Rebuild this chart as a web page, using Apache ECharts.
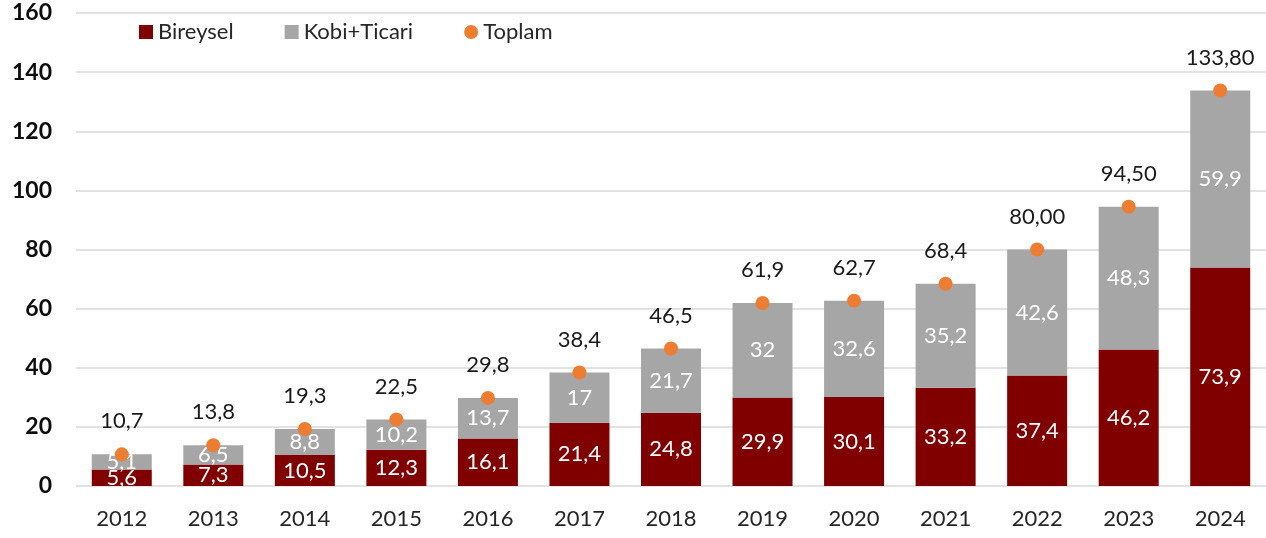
<!DOCTYPE html>
<html>
<head>
<meta charset="utf-8">
<script src="https://cdn.jsdelivr.net/npm/echarts@6/dist/echarts.min.js"></script>
<style>
  html, body { margin: 0; padding: 0; background: #fff; }
  #chart { width: 1266px; height: 538px; }
</style>
</head>
<body>
<div id="chart"></div>
<script>
// data
var years = ['2012','2013','2014','2015','2016','2017','2018','2019','2020','2021','2022','2023','2024']
var bireysel = [5.6, 7.3, 10.5, 12.3, 16.1, 21.4, 24.8, 29.9, 30.1, 33.2, 37.4, 46.2, 73.9]
var kobiTicari = [5.1, 6.5, 8.8, 10.2, 13.7, 17, 21.7, 32, 32.6, 35.2, 42.6, 48.3, 59.9]
var toplam = [10.7, 13.8, 19.3, 22.5, 29.8, 38.4, 46.5, 61.9, 62.7, 68.4, 80.0, 94.5, 133.8]
var toplamText = ['10,7','13,8','19,3','22,5','29,8','38,4','46,5','61,9','62,7','68,4','80,00','94,50','133,80']

var font = 'Lato, "Open Sans", sans-serif'
var fs = 22

function comma(p){
  return String(p.value).replace('.', ',')
}

var chart = echarts.init(document.getElementById('chart'))
chart.setOption({
  animation: false,
  textStyle: { fontFamily: font },
  grid: { left: 76, right: 0, top: 13, bottom: 52 },
  legend: {
    left: 134,
    top: 16,
    itemWidth: 14,
    itemHeight: 14,
    itemGap: 51,
    textStyle: { fontSize: fs, color: '#262626', fontFamily: font },
    data: [
      { name: 'Bireysel', icon: 'rect' },
      { name: 'Kobi+Ticari', icon: 'rect' },
      { name: 'Toplam', icon: 'circle' }
    ]
  },
  xAxis: {
    type: 'category',
    data: years,
    axisLine: { show: false },
    axisTick: { show: false },
    axisLabel: { fontSize: fs, color: '#262626', margin: 22, fontFamily: font }
  },
  yAxis: {
    type: 'value',
    min: 0,
    max: 160,
    interval: 20,
    axisLine: { show: false },
    axisTick: { show: false },
    splitLine: { lineStyle: { color: '#d9d9d9', width: 1.5 } },
    axisLabel: { fontSize: 23, fontWeight: 'bold', color: '#0d0d0d', margin: 24, fontFamily: font }
  },
  series: [
    {
      name: 'Bireysel',
      type: 'bar',
      stack: 'total',
      barWidth: 60,
      data: bireysel,
      itemStyle: { color: '#800000' },
      label: { show: true, position: 'inside', color: '#fff', fontSize: fs, formatter: comma, fontFamily: font }
    },
    {
      name: 'Kobi+Ticari',
      type: 'bar',
      stack: 'total',
      barWidth: 60,
      data: kobiTicari,
      itemStyle: { color: '#a6a6a6' },
      label: { show: true, position: 'inside', color: '#fff', fontSize: fs, formatter: comma, fontFamily: font }
    },
    {
      name: 'Toplam',
      type: 'scatter',
      symbolSize: 14,
      data: toplam,
      itemStyle: { color: '#ed7d31', opacity: 1 },
      z: 5,
      label: {
        show: true,
        position: 'top',
        distance: 15,
        color: '#1a1a1a',
        fontSize: fs,
        fontFamily: font,
        formatter: function(p){ return toplamText[p.dataIndex] }
      }
    }
  ]
})
</script>
</body>
</html>
